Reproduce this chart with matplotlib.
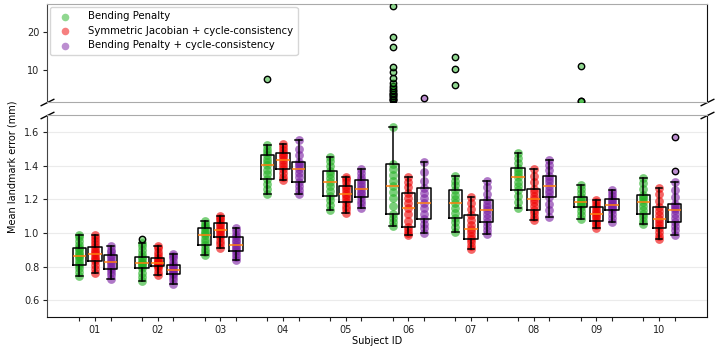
import matplotlib
matplotlib.use('Agg')
import matplotlib.pyplot as plt
from matplotlib.colors import to_rgba

subjects = ['01', '02', '03', '04', '05', '06', '07', '08', '09', '10']
methods = ['Bending Penalty',
           'Symmetric Jacobian + cycle-consistency',
           'Bending Penalty + cycle-consistency']
colors = ['#22b022', '#ee0000', '#7a1fa2']

# ---- box statistics ----
green_lo  = [0.746, 0.714, 0.867, 1.234, 1.137, 1.043, 1.006, 1.149, 1.083, 1.054]
green_q1  = [0.810, 0.792, 0.926, 1.323, 1.222, 1.113, 1.091, 1.256, 1.155, 1.111]
green_med = [0.863, 0.821, 0.986, 1.402, 1.304, 1.276, 1.176, 1.331, 1.182, 1.185]
green_q3  = [0.911, 0.855, 1.027, 1.462, 1.369, 1.411, 1.254, 1.383, 1.212, 1.226]
green_hi  = [0.990, 0.938, 1.073, 1.521, 1.452, 1.631, 1.339, 1.476, 1.283, 1.329]

red_lo  = [0.760, 0.750, 0.913, 1.315, 1.117, 0.986, 0.907, 1.075, 1.032, 0.962]
red_q1  = [0.835, 0.804, 0.976, 1.379, 1.186, 1.033, 0.962, 1.137, 1.073, 1.030]
red_med = [0.875, 0.825, 1.018, 1.434, 1.234, 1.151, 1.026, 1.204, 1.113, 1.081]
red_q3  = [0.917, 0.851, 1.061, 1.476, 1.280, 1.238, 1.105, 1.262, 1.152, 1.155]
red_hi  = [0.988, 0.924, 1.103, 1.530, 1.335, 1.331, 1.214, 1.377, 1.196, 1.268]

purple_lo  = [0.730, 0.700, 0.837, 1.230, 1.146, 1.000, 0.996, 1.095, 1.067, 0.990]
purple_q1  = [0.786, 0.754, 0.893, 1.300, 1.214, 1.083, 1.065, 1.212, 1.135, 1.065]
purple_med = [0.827, 0.783, 0.930, 1.381, 1.260, 1.179, 1.137, 1.280, 1.168, 1.135]
purple_q3  = [0.871, 0.811, 0.974, 1.423, 1.315, 1.265, 1.194, 1.341, 1.202, 1.174]
purple_hi  = [0.920, 0.877, 1.027, 1.551, 1.377, 1.420, 1.311, 1.434, 1.254, 1.301]

# ---- outliers ----
green_fliers = [[], [0.966], [], [7.6], [],
                [2.04, 2.2, 2.5, 2.7, 3.1, 3.3, 3.6, 3.8, 4.0, 4.4, 4.9, 5.2, 5.75,
                 6.5, 7.96, 9.55, 10.9, 16.1, 18.75, 26.7],
                [6.1, 10.3, 13.5], [], [1.85, 1.95, 11.2], []]
red_fliers = [[], [], [], [], [], [], [], [], [], []]
purple_fliers = [[], [], [], [], [], [2.6], [], [], [], [1.367, 1.567]]

# ---- individual per-case values (strip points) ----
green_pts = [
    [0.746, 0.77, 0.79, 0.81, 0.825, 0.84, 0.855, 0.863, 0.875, 0.89, 0.905, 0.911, 0.93, 0.955, 0.975, 0.99],
    [0.714, 0.74, 0.765, 0.792, 0.805, 0.815, 0.821, 0.83, 0.843, 0.855, 0.875, 0.9, 0.92, 0.938],
    [0.867, 0.885, 0.905, 0.926, 0.945, 0.965, 0.986, 0.998, 1.012, 1.027, 1.04, 1.055, 1.073],
    [1.234, 1.26, 1.29, 1.323, 1.35, 1.375, 1.402, 1.42, 1.44, 1.462, 1.48, 1.5, 1.521],
    [1.137, 1.165, 1.195, 1.222, 1.25, 1.28, 1.304, 1.325, 1.348, 1.369, 1.395, 1.425, 1.452],
    [1.043, 1.065, 1.09, 1.113, 1.16, 1.21, 1.245, 1.276, 1.31, 1.345, 1.38, 1.411, 1.631],
    [1.006, 1.035, 1.063, 1.091, 1.12, 1.15, 1.176, 1.2, 1.228, 1.254, 1.282, 1.31, 1.339],
    [1.149, 1.185, 1.22, 1.256, 1.28, 1.305, 1.331, 1.348, 1.366, 1.383, 1.415, 1.445, 1.476],
    [1.083, 1.105, 1.13, 1.155, 1.165, 1.174, 1.182, 1.192, 1.202, 1.212, 1.235, 1.26, 1.283],
    [1.054, 1.073, 1.092, 1.111, 1.135, 1.16, 1.185, 1.199, 1.213, 1.226, 1.26, 1.295, 1.329],
]
red_pts = [
    [0.76, 0.785, 0.81, 0.835, 0.848, 0.86, 0.875, 0.885, 0.9, 0.917, 0.935, 0.955, 0.972, 0.988],
    [0.75, 0.77, 0.79, 0.804, 0.812, 0.82, 0.825, 0.833, 0.842, 0.851, 0.87, 0.89, 0.91, 0.924],
    [0.913, 0.935, 0.955, 0.976, 0.99, 1.005, 1.018, 1.03, 1.045, 1.061, 1.075, 1.09, 1.103],
    [1.315, 1.335, 1.358, 1.379, 1.395, 1.415, 1.434, 1.448, 1.462, 1.476, 1.495, 1.512, 1.53],
    [1.117, 1.14, 1.163, 1.186, 1.2, 1.218, 1.234, 1.25, 1.265, 1.28, 1.3, 1.318, 1.335],
    [0.986, 1.0, 1.016, 1.033, 1.07, 1.11, 1.151, 1.18, 1.21, 1.238, 1.27, 1.3, 1.331],
    [0.907, 0.925, 0.945, 0.962, 0.985, 1.005, 1.026, 1.05, 1.078, 1.105, 1.14, 1.178, 1.214],
    [1.075, 1.095, 1.116, 1.137, 1.16, 1.182, 1.204, 1.222, 1.242, 1.262, 1.3, 1.34, 1.377],
    [1.032, 1.045, 1.06, 1.073, 1.087, 1.1, 1.113, 1.126, 1.139, 1.152, 1.167, 1.182, 1.196],
    [0.962, 0.985, 1.008, 1.03, 1.047, 1.064, 1.081, 1.105, 1.13, 1.155, 1.192, 1.23, 1.268],
]
purple_pts = [
    [0.73, 0.75, 0.768, 0.786, 0.8, 0.815, 0.827, 0.84, 0.855, 0.871, 0.885, 0.9, 0.92],
    [0.70, 0.72, 0.738, 0.754, 0.765, 0.775, 0.783, 0.792, 0.802, 0.811, 0.83, 0.85, 0.865, 0.877],
    [0.837, 0.855, 0.875, 0.893, 0.905, 0.918, 0.93, 0.945, 0.96, 0.974, 0.99, 1.01, 1.027],
    [1.23, 1.255, 1.28, 1.30, 1.33, 1.355, 1.381, 1.395, 1.41, 1.423, 1.46, 1.5, 1.551],
    [1.146, 1.17, 1.192, 1.214, 1.23, 1.245, 1.26, 1.278, 1.297, 1.315, 1.335, 1.357, 1.377],
    [1.0, 1.03, 1.055, 1.083, 1.115, 1.15, 1.179, 1.205, 1.235, 1.265, 1.31, 1.36, 1.42],
    [0.996, 1.02, 1.042, 1.065, 1.09, 1.115, 1.137, 1.155, 1.175, 1.194, 1.23, 1.27, 1.311],
    [1.095, 1.135, 1.175, 1.212, 1.235, 1.258, 1.28, 1.3, 1.32, 1.341, 1.372, 1.403, 1.434],
    [1.067, 1.09, 1.112, 1.135, 1.146, 1.157, 1.168, 1.18, 1.191, 1.202, 1.22, 1.237, 1.254],
    [0.99, 1.015, 1.04, 1.065, 1.09, 1.112, 1.135, 1.148, 1.161, 1.174, 1.216, 1.258, 1.301],
]

stats_all = [
    (green_lo, green_q1, green_med, green_q3, green_hi, green_fliers, green_pts),
    (red_lo, red_q1, red_med, red_q3, red_hi, red_fliers, red_pts),
    (purple_lo, purple_q1, purple_med, purple_q3, purple_hi, purple_fliers, purple_pts),
]
offsets = [-0.25, 0.0, 0.25]
bot_lim = (0.5, 1.7)
top_lim = (1.7, 27.3)

fig = plt.figure(figsize=(7.23, 3.47), dpi=100)
L, R = 0.0654, 0.9775
ax_top = fig.add_axes([L, 0.7069, R - L, 0.988 - 0.7069])
ax_bot = fig.add_axes([L, 0.0856, R - L, 0.6686 - 0.0856])

flier_kw = dict(marker='o', markersize=4.6, markeredgecolor='black', markeredgewidth=1.0)

for m, (lo, q1, med, q3, hi, fl, pts) in enumerate(stats_all):
    bxs = []
    pos = []
    for i in range(len(subjects)):
        x = i + 1 + offsets[m]
        bxs.append(dict(whislo=lo[i], q1=q1[i], med=med[i], q3=q3[i],
                        whishi=hi[i], fliers=fl[i], label=''))
        pos.append(x)
        ax_bot.scatter([x] * len(pts[i]), pts[i], s=40,
                       color=colors[m], alpha=0.6, linewidths=0, zorder=2)
        high = [v for v in fl[i] if v > top_lim[0]]
        if high:
            ax_top.plot([x] * len(high), high, linestyle='none',
                        markerfacecolor=to_rgba(colors[m], 0.5), zorder=3, **flier_kw)
    ax_bot.bxp(bxs, positions=pos, widths=0.21, manage_ticks=False,
               boxprops=dict(color='black', linewidth=1.1),
               whiskerprops=dict(color='black', linewidth=1.1),
               capprops=dict(color='black', linewidth=1.1),
               medianprops=dict(color='#ff7f0e', linewidth=1.1),
               flierprops=dict(markerfacecolor=to_rgba(colors[m], 0.5), **flier_kw),
               zorder=3)

ax_bot.set_ylim(*bot_lim)
ax_top.set_ylim(*top_lim)
for ax in (ax_top, ax_bot):
    ax.set_xlim(0.24, 10.76)

ax_top.set_yticks([10, 20])
ax_bot.set_yticks([0.6, 0.8, 1.0, 1.2, 1.4, 1.6])
ax_bot.set_yticklabels(['0.6', '0.8', '1.0', '1.2', '1.4', '1.6'])
ax_bot.yaxis.grid(True, color='#ebebeb', linewidth=0.8)
ax_bot.set_axisbelow(True)

ticks = []
labels = []
for i, s in enumerate(subjects):
    for m in range(3):
        ticks.append(i + 1 + offsets[m])
        labels.append(s if m == 1 else '')
ax_bot.set_xticks(ticks)
ax_bot.set_xticklabels(labels)
ax_top.set_xticks([])
ax_bot.set_xlabel('Subject ID', fontsize=7, labelpad=1)

for ax in (ax_top, ax_bot):
    ax.tick_params(labelsize=7, length=3, colors='#222222', pad=2.5)
    ax.spines['left'].set_color('#444444')
    ax.spines['right'].set_color('#111111')
ax_top.spines['top'].set_color('#aaaaaa')
ax_top.spines['bottom'].set_color('#aaaaaa')
ax_bot.spines['top'].set_color('#aaaaaa')
ax_bot.spines['bottom'].set_color('#111111')

d = 0.5
kw = dict(marker=[(-1, -d), (1, d)], markersize=10, linestyle='none',
          color='k', mec='k', mew=1, clip_on=False)
ax_top.plot([0, 1], [0, 0], transform=ax_top.transAxes, **kw)
ax_bot.plot([0, 1], [1, 1], transform=ax_bot.transAxes, **kw)

handles = [ax_top.scatter([], [], s=30, color=c, alpha=0.5, linewidths=0) for c in colors]
ax_top.legend(handles, methods, loc='upper left', fontsize=7.3, frameon=True,
              borderaxespad=0.25, handletextpad=1.3, labelspacing=0.45,
              borderpad=0.45)

fig.text(0.017, 0.52, 'Mean landmark error (mm)', rotation=90, fontsize=7,
         ha='center', va='center')

fig.savefig('out.png', dpi=100)
